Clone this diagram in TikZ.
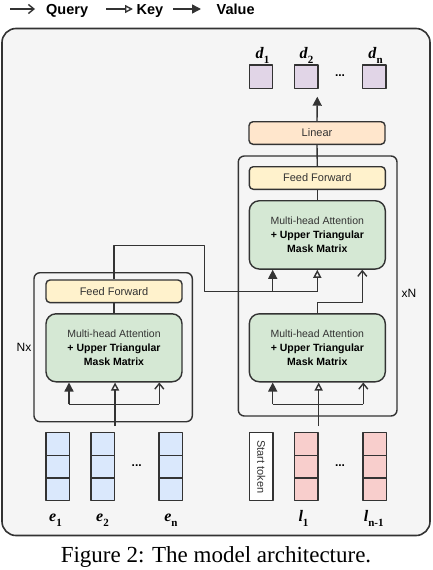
\documentclass[tikz,border=0pt]{standalone}
\usepackage{fontspec}
\setmainfont{Liberation Serif}
\setsansfont{Liberation Sans}
\usetikzlibrary{arrows.meta}

\definecolor{bgfill}{HTML}{F5F5F5}
\definecolor{linecol}{HTML}{333333}
\definecolor{attfill}{HTML}{D5E8D4}
\definecolor{fffill}{HTML}{FFF2CC}
\definecolor{linfill}{HTML}{FFE6CC}
\definecolor{encfill}{HTML}{DAE8FC}
\definecolor{labfill}{HTML}{F8CECC}
\definecolor{outfill}{HTML}{E1D5E7}

% bold italic letter with bold index
\newcommand{\vlab}[2]{\textbf{\textit{#1}}\raisebox{-0.3em}{\fontsize{11}{11}\selectfont\textbf{#2}}}
\newcommand{\atttext}{Multi-head Attention\\\textcolor{black}{\textbf{+ Upper Triangular}}\\\textcolor{black}{\textbf{Mask Matrix}}}

\begin{document}
\begin{tikzpicture}[x=1pt, y=-1pt, line join=round,
    every node/.style={text=linecol},
    conn/.style={line width=1.4pt, draw=linecol},
    qarrow/.style={conn, -{Straight Barb[width=9pt,length=5.5pt]}},
    karrow/.style={conn, -{Triangle[open,width=8pt,length=8pt]}},
    varrow/.style={conn, -{Triangle[width=9pt,length=9pt]}},
    legtxt/.style={font=\sffamily\bfseries\fontsize{14.5}{16}\selectfont, text=black, inner sep=0pt, anchor=base west},
    stackblk/.style={draw=linecol, line width=1.4pt, rounded corners=6pt, inner sep=0pt},
    attbox/.style={draw=linecol, line width=1.4pt, fill=attfill, rounded corners=10pt,
      minimum width=136pt, minimum height=68pt, inner sep=0pt, align=center,
      font=\sffamily\fontsize{10.5}{14}\selectfont},
    ffbox/.style={draw=linecol, line width=1.4pt, fill=fffill, rounded corners=4pt,
      minimum width=136pt, minimum height=22.6pt, inner sep=0pt,
      font=\sffamily\fontsize{11}{13}\selectfont},
    embcell/.style={draw=linecol, line width=1.4pt, minimum width=23.3pt, minimum height=22.67pt, inner sep=0pt},
    vallab/.style={font=\rmfamily\fontsize{16}{16}\selectfont, text=black, inner sep=0pt, anchor=base},
    dotlab/.style={font=\sffamily\bfseries\fontsize{12}{12}\selectfont, text=black, inner sep=0pt, anchor=base}]

  \useasboundingbox (0,0) rectangle (432,570);

  % legend
  \coordinate (lq0) at (10,9);  \coordinate (lq1) at (35,9);
  \coordinate (lk0) at (106,9); \coordinate (lk1) at (133,9);
  \coordinate (lv0) at (173,9); \coordinate (lv1) at (201,9);
  \draw[qarrow] (lq0) -- (lq1);
  \draw[karrow] (lk0) -- (lk1);
  \draw[varrow] (lv0) -- (lv1);
  \node[legtxt] (lqt) at (46,14.7) {Query};
  \node[legtxt] (lkt) at (136.5,14.7) {Key};
  \node[legtxt] (lvt) at (216.5,14.7) {Value};

  % frame
  \draw[line width=1.6pt, draw=linecol, fill=bgfill, rounded corners=14pt] (2,28.5) rectangle (430,535.5);

  % encoder
  \node[stackblk, minimum width=158.3pt, minimum height=149pt] (encblk) at (113.15,347.2) {};
  \node[ffbox] (encff) at (114,291.3) {Feed Forward};
  \node[attbox] (encatt) at (114,347.8) {\atttext};
  \node[font=\sffamily\fontsize{12}{12}\selectfont, text=black] (nx) at (24,347.3) {Nx};

  % decoder
  \node[stackblk, minimum width=158.7pt, minimum height=260pt] (decblk) at (317.65,286) {};
  \node[ffbox, fill=linfill] (linear) at (317,133) {Linear};
  \node[ffbox] (decff) at (317.3,178) {Feed Forward};
  \node[attbox, minimum height=68.3pt] (decatt2) at (317.3,234.9) {\atttext};
  \node[attbox] (decatt1) at (317.3,347.8) {\atttext};
  \node[font=\sffamily\fontsize{12}{12}\selectfont, text=black] (xn) at (409,293) {xN};

  % outputs
  \node[embcell, fill=outfill, minimum height=23.3pt] (d1) at (261,76.7) {};
  \node[embcell, fill=outfill, minimum height=23.3pt] (d2) at (306.3,76.7) {};
  \node[embcell, fill=outfill, minimum height=23.3pt] (dn) at (374.3,76.7) {};
  \node[vallab] (d1lab) at (262.5,58.3) {\vlab{d}{1}};
  \node[vallab] (d2lab) at (306.5,58.3) {\vlab{d}{2}};
  \node[vallab] (dnlab) at (375.5,58.3) {\vlab{d}{n}};
  \node[dotlab] (ddots) at (340,76.5) {...};

  % inputs
  \foreach \nm/\x/\col in {e1/57.7/encfill, e2/102.7/encfill, en/170.7/encfill, l1/306.3/labfill, ln/374.7/labfill}
    \foreach \k in {0,1,2}
      \node[embcell, fill=\col] (\nm\k) at (\x,444.03+22.67*\k) {};
  \node[embcell, fill=white, minimum height=68pt] (start) at (261.3,466.7) {};
  \node[rotate=-90, font=\sffamily\fontsize{11}{11}\selectfont, inner sep=0pt] (starttxt) at (start.center) {Start token};
  \node[dotlab] (edots) at (136.7,466.5) {...};
  \node[dotlab] (ldots) at (340,466.5) {...};
  \node[vallab] (e1lab) at (55.5,521.7) {\vlab{e}{1}};
  \node[vallab] (e2lab) at (102.5,521.7) {\vlab{e}{2}};
  \node[vallab] (enlab) at (171,521.7) {\vlab{e}{n}};
  \node[vallab] (l1lab) at (303.5,521.7) {\vlab{l}{1}};
  \node[vallab] (lnlab) at (373.7,521.7) {\vlab{l}{n-1}};

  % encoder wiring
  \coordinate (ebarL) at (69,404.3);
  \coordinate (ebarR) at (159.3,404.3);
  \draw[conn] (ebarL) -- (ebarR);
  \draw[varrow] (ebarL) -- (ebarL |- encatt.south);
  \draw[qarrow] (ebarR) -- (ebarR |- encatt.south);
  \draw[karrow, shorten <=6pt] (e20.north east) -- (e20.north east |- encatt.south);
  \draw[conn] (encatt.north) -- (encff.south);

  % encoder output to the upper attention
  \coordinate (eo1) at (114,245.7);
  \coordinate (eo2) at (204.3,245.7);
  \coordinate (eo3) at (204.3,291.7);
  \coordinate (vjoin) at (272.7,291.7);
  \coordinate (kjoin) at (317.3,291.7);
  \draw[conn] (encff.north) -- (eo1) -- (eo2) -- (eo3) -- (kjoin);
  \draw[varrow] (vjoin) -- (vjoin |- decatt2.south);
  \draw[karrow] (kjoin) -- (kjoin |- decatt2.south);

  % decoder wiring
  \coordinate (dbarL) at (272.7,404.3);
  \coordinate (dbarR) at (363.3,404.3);
  \draw[conn] (dbarL) -- (dbarR);
  \draw[varrow] (dbarL) -- (dbarL |- decatt1.south);
  \draw[qarrow] (dbarR) -- (dbarR |- decatt1.south);
  \draw[karrow, shorten <=6pt] (l10.north east) -- (l10.north east |- decatt1.south);
  \coordinate (dq1) at (317.3,302.7);
  \coordinate (dq2) at (362.3,302.7);
  \draw[qarrow] (decatt1.north) -- (dq1) -- (dq2) -- (dq2 |- decatt2.south);
  \draw[conn] (decatt2.north) -- (decff.south);
  \draw[conn] (decff.north) -- (linear.south);
  \coordinate (outtip) at (317.3,96.7);
  \draw[varrow] (linear.north) -- (outtip);

  % caption
  \node[font=\rmfamily\fontsize{23}{23}\selectfont, text=black, inner sep=0pt, anchor=base] (caption) at (216,562.7) {Figure 2: The model architecture.};
\end{tikzpicture}
\end{document}
